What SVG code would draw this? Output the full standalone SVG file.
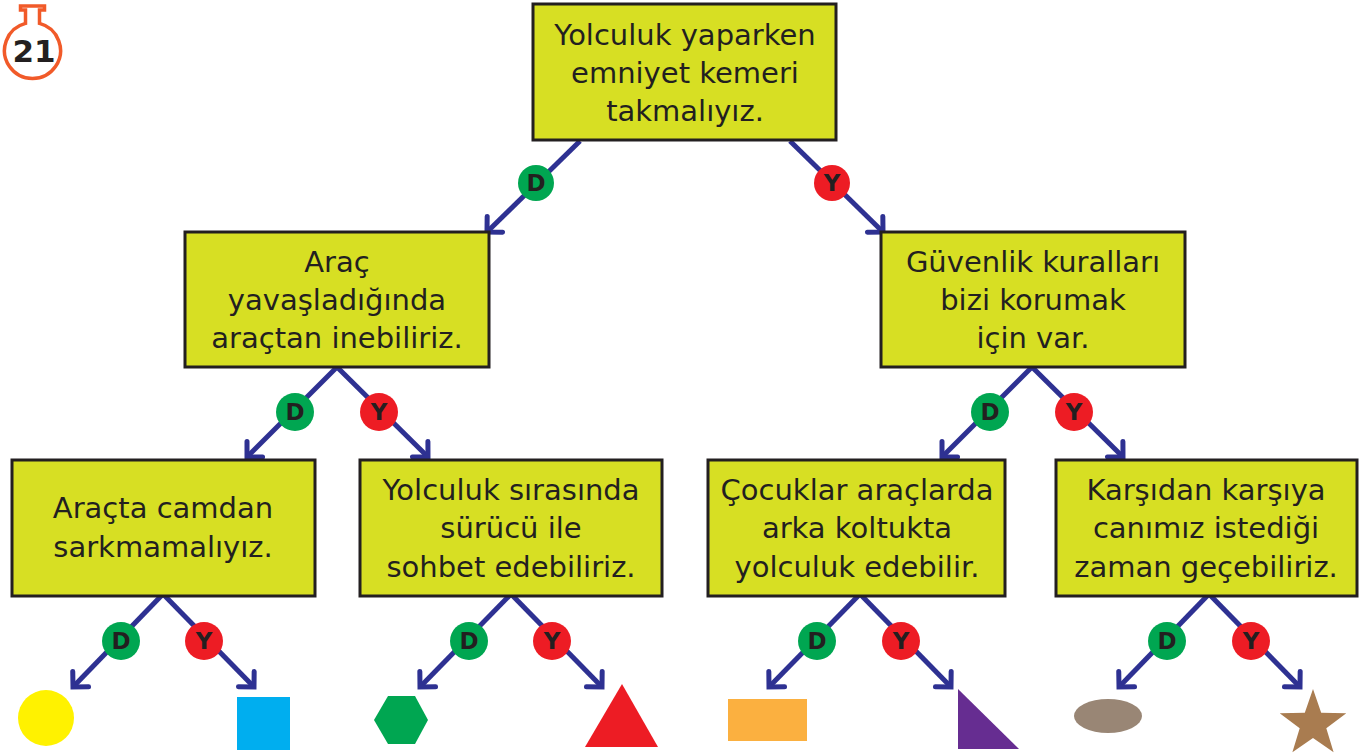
<svg xmlns="http://www.w3.org/2000/svg" width="1370" height="756" viewBox="0 0 1370 756">
<defs>
<style>
.box{fill:#d7df23;stroke:#231f20;stroke-width:3}
.t{font-family:"DejaVu Sans","Liberation Sans",sans-serif;font-size:29px;fill:#231f20;text-anchor:middle}
.ln{stroke:#2e3192;stroke-width:5;fill:none;marker-end:url(#ah)}
.lbl{font-family:"DejaVu Sans","Liberation Sans",sans-serif;font-size:23px;font-weight:bold;fill:#231f20;text-anchor:middle}
.d{fill:#00a651}
.y{fill:#ed1c24}
</style>
<marker id="ah" markerUnits="userSpaceOnUse" viewBox="-20 -20 40 40" refX="0" refY="0" markerWidth="40" markerHeight="40" orient="auto" overflow="visible">
<path d="M -11 -11 L 0 0 L -11 11" fill="none" stroke="#2e3192" stroke-width="5" stroke-linecap="round" stroke-linejoin="miter"/>
</marker>
</defs>
<rect width="1370" height="756" fill="#ffffff"/>

<g id="badge">
<path d="M 25.5 23.4 L 25.5 10 L 20.5 10 L 20.5 6 L 44.5 6 L 44.5 10 L 39.5 10 L 39.5 23.4 A 28 28 0 1 1 25.5 23.4 Z" fill="#ffffff" stroke="#f15a29" stroke-width="3.5" stroke-linejoin="miter"/>
<text x="34" y="62" font-family="DejaVu Sans,Liberation Sans,sans-serif" font-size="31" font-weight="bold" fill="#231f20" text-anchor="middle">21</text>
</g>

<g id="connectors">
<line class="ln" x1="580" y1="141" x2="487" y2="232"/>
<line class="ln" x1="790" y1="141" x2="883" y2="232"/>
<line class="ln" x1="337" y1="367" x2="247" y2="457"/>
<line class="ln" x1="337" y1="367" x2="428" y2="457"/>
<line class="ln" x1="1032" y1="367" x2="942" y2="457"/>
<line class="ln" x1="1032" y1="367" x2="1123" y2="457"/>
<line class="ln" x1="163" y1="594" x2="73" y2="687"/>
<line class="ln" x1="163" y1="594" x2="254" y2="687"/>
<line class="ln" x1="511" y1="594" x2="420" y2="687"/>
<line class="ln" x1="511" y1="594" x2="602" y2="687"/>
<line class="ln" x1="860" y1="594" x2="769" y2="687"/>
<line class="ln" x1="860" y1="594" x2="951" y2="687"/>
<line class="ln" x1="1209" y1="594" x2="1119" y2="687"/>
<line class="ln" x1="1209" y1="594" x2="1300" y2="687"/>
<circle class="d" cx="536" cy="183" r="18"/><text class="lbl" x="536" y="191">D</text>
<circle class="y" cx="832" cy="183" r="18"/><text class="lbl" x="832" y="191">Y</text>
<circle class="d" cx="295" cy="412" r="19"/><text class="lbl" x="295" y="420">D</text>
<circle class="y" cx="379" cy="412" r="19"/><text class="lbl" x="379" y="420">Y</text>
<circle class="d" cx="990" cy="412" r="19"/><text class="lbl" x="990" y="420">D</text>
<circle class="y" cx="1074" cy="412" r="19"/><text class="lbl" x="1074" y="420">Y</text>
<circle class="d" cx="121" cy="641" r="19"/><text class="lbl" x="121" y="649">D</text>
<circle class="y" cx="204" cy="641" r="19"/><text class="lbl" x="204" y="649">Y</text>
<circle class="d" cx="469" cy="641" r="19"/><text class="lbl" x="469" y="649">D</text>
<circle class="y" cx="552" cy="641" r="19"/><text class="lbl" x="552" y="649">Y</text>
<circle class="d" cx="817" cy="641" r="19"/><text class="lbl" x="817" y="649">D</text>
<circle class="y" cx="901" cy="641" r="19"/><text class="lbl" x="901" y="649">Y</text>
<circle class="d" cx="1167" cy="641" r="19"/><text class="lbl" x="1167" y="649">D</text>
<circle class="y" cx="1251" cy="641" r="19"/><text class="lbl" x="1251" y="649">Y</text>
</g>

<g id="n1">
<rect class="box" x="533" y="4" width="303" height="136"/>
<text class="t" x="685" y="45">Yolculuk yaparken</text>
<text class="t" x="685" y="83">emniyet kemeri</text>
<text class="t" x="685" y="121">takmalıyız.</text>
</g>
<g id="n2">
<rect class="box" x="185" y="232" width="304" height="135"/>
<text class="t" x="337" y="272">Araç</text>
<text class="t" x="337" y="310">yavaşladığında</text>
<text class="t" x="337" y="348">araçtan inebiliriz.</text>
</g>
<g id="n3">
<rect class="box" x="881" y="232" width="304" height="135"/>
<text class="t" x="1033" y="272">Güvenlik kuralları</text>
<text class="t" x="1033" y="310">bizi korumak</text>
<text class="t" x="1033" y="348">için var.</text>
</g>
<g id="n4">
<rect class="box" x="12" y="460" width="303" height="136"/>
<text class="t" x="163" y="518">Araçta camdan</text>
<text class="t" x="163" y="557">sarkmamalıyız.</text>
</g>
<g id="n5">
<rect class="box" x="360" y="460" width="302" height="136"/>
<text class="t" x="511" y="500">Yolculuk sırasında</text>
<text class="t" x="511" y="538">sürücü ile</text>
<text class="t" x="511" y="577">sohbet edebiliriz.</text>
</g>
<g id="n6">
<rect class="box" x="708" y="460" width="297" height="136"/>
<text class="t" x="857" y="500">Çocuklar araçlarda</text>
<text class="t" x="857" y="538">arka koltukta</text>
<text class="t" x="857" y="577">yolculuk edebilir.</text>
</g>
<g id="n7">
<rect class="box" x="1056" y="460" width="301" height="136"/>
<text class="t" x="1206" y="500">Karşıdan karşıya</text>
<text class="t" x="1206" y="538">canımız istediği</text>
<text class="t" x="1206" y="577">zaman geçebiliriz.</text>
</g>

<g id="s1"><circle cx="46" cy="718" r="28" fill="#fff200"/></g>
<g id="s2"><rect x="237" y="697" width="53" height="53" fill="#00aeef"/></g>
<g id="s3"><polygon points="374,720 388,696 415,696 428,720 415,744 388,744" fill="#00a651"/></g>
<g id="s4"><polygon points="622,684 658,747 585,747" fill="#ed1c24"/></g>
<g id="s5"><rect x="728" y="699" width="79" height="42" fill="#fbb040"/></g>
<g id="s6"><polygon points="958,689 958,749 1019,749" fill="#662d91"/></g>
<g id="s7"><ellipse cx="1108" cy="716" rx="34" ry="17" fill="#998675"/></g>
<g id="s8"><polygon points="1313,689 1321.2,712.7 1346.3,713.2 1326.3,728.3 1333.6,752.3 1313,738 1292.4,752.3 1299.7,728.3 1279.7,713.2 1304.8,712.7" fill="#a97c50"/></g>
</svg>
